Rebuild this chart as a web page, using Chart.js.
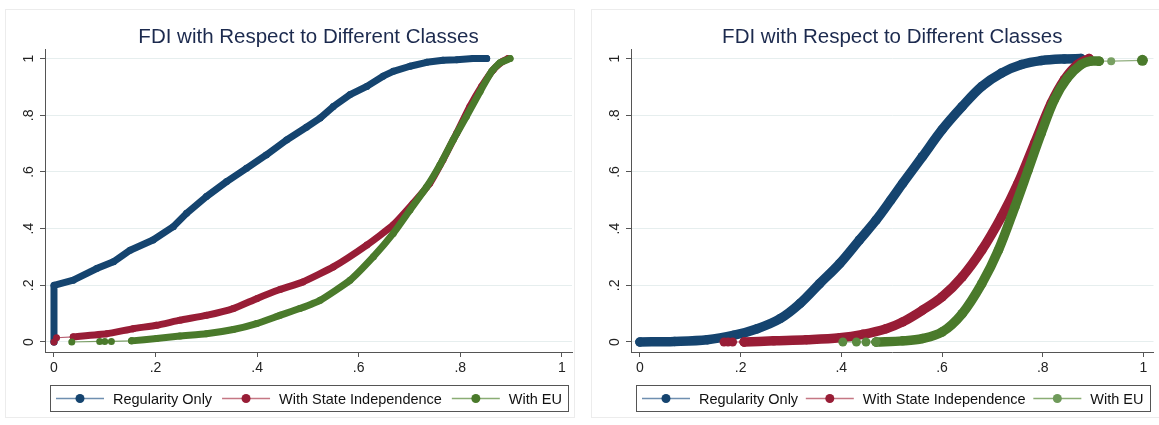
<!DOCTYPE html>
<html>
<head>
<meta charset="utf-8">
<script src="https://cdn.jsdelivr.net/npm/chart.js@4.4.1/dist/chart.umd.min.js"></script>
<style>
  body { margin: 0; background: #fff; width: 1159px; height: 425px; overflow: hidden; position: relative; }
  .frame { position: absolute; top: 9px; height: 409px; border: 1px solid #ececec; box-sizing: border-box; }
  .panel { position: absolute; top: 0; }
</style>
</head>
<body>
<div class="frame" style="left:5px;width:570px"></div>
<div class="frame" style="left:591px;width:580px"></div>
<div class="panel" style="left:0"><canvas id="left" width="580" height="425"></canvas></div>
<div class="panel" style="left:580px"><canvas id="right" width="579" height="425"></canvas></div>
<script>
// --- data ---
const title = 'FDI with Respect to Different Classes';
const seriesNames = ['Regularity Only', 'With State Independence', 'With EU'];
const xTicks = [0, 0.2, 0.4, 0.6, 0.8, 1];
const yTicks = [0, 0.2, 0.4, 0.6, 0.8, 1];

// left panel
const regLeftX = [0, 0, 0.038, 0.084, 0.117, 0.150, 0.195, 0.235, 0.261, 0.300, 0.340, 0.379, 0.418, 0.458, 0.497, 0.524, 0.550, 0.583, 0.616, 0.648, 0.668, 0.701, 0.734, 0.766, 0.793, 0.825, 0.852];
const regLeftY = [0, 0.200, 0.218, 0.259, 0.283, 0.324, 0.360, 0.407, 0.454, 0.513, 0.566, 0.613, 0.660, 0.713, 0.758, 0.790, 0.831, 0.873, 0.902, 0.938, 0.955, 0.973, 0.987, 0.994, 0.996, 1.0, 1.0];
const stateLeftTailX = [0, 0.005, 0.038];
const stateLeftTailY = [0, 0.015, 0.018];
const stateLeftX = [0.038, 0.104, 0.156, 0.202, 0.248, 0.300, 0.353, 0.399, 0.445, 0.490, 0.550, 0.616, 0.668, 0.707, 0.740, 0.766, 0.793, 0.819, 0.842, 0.865, 0.884, 0.894];
const stateLeftY = [0.018, 0.029, 0.047, 0.059, 0.077, 0.094, 0.118, 0.153, 0.185, 0.212, 0.265, 0.342, 0.413, 0.489, 0.560, 0.643, 0.737, 0.831, 0.902, 0.961, 0.991, 1.0];
const euLeftTailX = [0.035, 0.090, 0.100, 0.113, 0.153];
const euLeftTailY = [0, 0.002, 0.002, 0.002, 0.004];
const euLeftX = [0.153, 0.202, 0.248, 0.300, 0.353, 0.399, 0.445, 0.484, 0.524, 0.583, 0.629, 0.668, 0.701, 0.734, 0.760, 0.786, 0.812, 0.839, 0.862, 0.878, 0.898];
const euLeftY = [0.004, 0.012, 0.021, 0.029, 0.044, 0.065, 0.094, 0.118, 0.147, 0.218, 0.301, 0.383, 0.466, 0.548, 0.625, 0.713, 0.796, 0.884, 0.955, 0.985, 1.0];

// right panel
const regRightX = [0, 0.069, 0.134, 0.187, 0.233, 0.279, 0.318, 0.357, 0.397, 0.436, 0.469, 0.498, 0.522, 0.561, 0.600, 0.640, 0.679, 0.718, 0.758, 0.797, 0.843, 0.876];
const regRightY = [0, 0.002, 0.008, 0.024, 0.047, 0.083, 0.136, 0.206, 0.277, 0.360, 0.430, 0.500, 0.560, 0.654, 0.749, 0.831, 0.902, 0.949, 0.979, 0.993, 0.999, 1.0];
const stateRightTailX = [0.167, 0.175, 0.184, 0.207];
const stateRightTailY = [0, 0, 0, 0];
const stateRightX = [0.207, 0.266, 0.331, 0.397, 0.443, 0.489, 0.522, 0.561, 0.600, 0.640, 0.679, 0.718, 0.751, 0.784, 0.817, 0.843, 0.869, 0.892];
const stateRightY = [0, 0.004, 0.008, 0.015, 0.027, 0.047, 0.071, 0.112, 0.159, 0.230, 0.324, 0.442, 0.560, 0.702, 0.843, 0.926, 0.979, 1.0];
const euRightTailX = [0.403, 0.430, 0.449, 0.469];
const euRightTailY = [0, 0, 0, 0];
const euRightX = [0.469, 0.522, 0.561, 0.600, 0.640, 0.679, 0.712, 0.745, 0.771, 0.797, 0.823, 0.849, 0.876, 0.895, 0.912];
const euRightY = [0, 0.004, 0.012, 0.035, 0.100, 0.206, 0.324, 0.478, 0.607, 0.737, 0.855, 0.932, 0.979, 0.991, 0.991];
const euRightEndX = [0.912, 0.936, 0.998];
const euRightEndY = [0.991, 0.991, 0.994];

// --- styling ---
const FONT = '"Liberation Sans", Arial, Helvetica, sans-serif';
const navy = '#15446f', maroon = '#981d36', forest = '#4a7a2b';
const xMin = -0.0177, xMax = 1.02, yMin = -0.0353, yMax = 1.0318;

function pts(xs, ys) {
    return xs.map((x, i) => ({ x: x, y: ys[i] }));
}

// thick band: the dense markers in the original merge into a band
function band(label, xs, ys, color, w, order, smooth) {
    return {
        label: label, data: pts(xs, ys), showLine: true,
        borderColor: color, backgroundColor: color, borderWidth: w,
        borderCapStyle: 'round', borderJoinStyle: 'round',
        tension: smooth, pointRadius: w / 2, pointBorderWidth: 0, order: order
    };
}

// sparse markers joined by a thin line
function tail(xs, ys, color, lineColor, r, order) {
    return {
        label: '', tail: true, data: pts(xs, ys), showLine: true,
        borderColor: lineColor, backgroundColor: color, borderWidth: 1.2,
        pointRadius: r, pointBorderWidth: 0, order: order
    };
}

function fmt(v) {
    if (v === 0) return '0';
    if (v === 1) return '1';
    return v.toFixed(1).replace(/^0/, '');
}

// y labels are vertical, as in Stata
const yLabels = {
    id: 'yLabels',
    afterDraw(chart) {
        const ctx = chart.ctx, ys = chart.scales.y, left = chart.chartArea.left;
        ctx.save();
        ctx.fillStyle = '#222';
        ctx.font = '14px ' + FONT;
        ctx.textAlign = 'center';
        ctx.textBaseline = 'middle';
        yTicks.forEach(v => {
            ctx.save();
            ctx.translate(left - 16, ys.getPixelForValue(v));
            ctx.rotate(-Math.PI / 2);
            ctx.fillText(fmt(v), 0, 0);
            ctx.restore();
        });
        ctx.restore();
    }
};

// boxed legend under the plot, symbol = line with a marker
const boxLegend = {
    id: 'boxLegend',
    afterDraw(chart) {
        const ctx = chart.ctx, area = chart.chartArea;
        const items = chart.data.datasets.filter(d => !d.tail);
        const left = area.left + 5, right = area.right - 4, top = area.bottom + 33, h = 26;
        ctx.save();
        ctx.strokeStyle = '#555';
        ctx.lineWidth = 1;
        ctx.strokeRect(Math.round(left) + 0.5, top + 0.5, Math.round(right - left), h);
        ctx.font = '14.5px ' + FONT;
        ctx.textBaseline = 'middle';
        const sym = 57;
        const widths = items.map(d => ctx.measureText(d.label).width);
        const used = widths.reduce((a, b) => a + b + sym, 0);
        const gap = (right - left - 12 - used) / (items.length - 1);
        const cy = top + h / 2 + 0.5;
        let x = left + 6;
        items.forEach((d, i) => {
            ctx.strokeStyle = d.legendLine;
            ctx.lineWidth = 1.5;
            ctx.beginPath();
            ctx.moveTo(x, cy);
            ctx.lineTo(x + 48, cy);
            ctx.stroke();
            ctx.fillStyle = d.legendDot || d.backgroundColor;
            ctx.beginPath();
            ctx.arc(x + 24, cy, 4.5, 0, Math.PI * 2);
            ctx.fill();
            ctx.fillStyle = '#111';
            ctx.fillText(d.label, x + sym, cy + 1);
            x += sym + widths[i] + gap;
        });
        ctx.restore();
    }
};

function makeChart(id, datasets, axisW, padRight) {
    const ctx = document.getElementById(id).getContext('2d');
    return new Chart(ctx, {
        type: 'scatter',
        data: { datasets: datasets },
        options: {
            responsive: false,
            animation: false,
            layout: { padding: { top: 0, left: 0, right: padRight, bottom: 45 } },
            plugins: {
                legend: { display: false },
                tooltip: { enabled: false },
                title: {
                    display: true, text: title, fullSize: false,
                    color: '#1c2a4e',
                    font: { family: FONT, size: 20.5, weight: 'normal' },
                    padding: { top: 25, bottom: 0 }
                }
            },
            scales: {
                x: {
                    type: 'linear', min: xMin, max: xMax,
                    afterBuildTicks: s => { s.ticks = xTicks.map(v => ({ value: v })); },
                    afterFit: s => { s.height = 28; },
                    ticks: { callback: v => fmt(v), color: '#222', font: { family: FONT, size: 14 }, padding: 3, maxRotation: 0, autoSkip: false },
                    grid: { drawOnChartArea: false, drawTicks: true, tickLength: 5, tickColor: '#555' },
                    border: { color: '#555', width: 1 }
                },
                y: {
                    type: 'linear', min: yMin, max: yMax,
                    afterBuildTicks: s => { s.ticks = yTicks.map(v => ({ value: v })); },
                    afterFit: s => { s.width = axisW; },
                    ticks: { display: false },
                    grid: { color: '#e6eeee', lineWidth: 1, drawTicks: true, tickLength: 5, tickColor: '#555' },
                    border: { color: '#555', width: 1 }
                }
            }
        },
        plugins: [yLabels, boxLegend]
    });
}

const leftSets = [
    band(seriesNames[0], regLeftX, regLeftY, navy, 7, 2, 0),
    tail(stateLeftTailX, stateLeftTailY, maroon, 'rgba(152,29,54,0.7)', 3.5, 1),
    band(seriesNames[1], stateLeftX, stateLeftY, maroon, 7, 1, 0.15),
    tail(euLeftTailX, euLeftTailY, forest, 'rgba(74,122,43,0.7)', 3.5, 0),
    band(seriesNames[2], euLeftX, euLeftY, forest, 7, 0, 0.15)
];
leftSets[0].legendLine = '#6f8fb0';
leftSets[2].legendLine = '#c57784';
leftSets[4].legendLine = '#8aad74';

const rightSets = [
    band(seriesNames[0], regRightX, regRightY, navy, 9.5, 2, 0.35),
    tail(stateRightTailX, stateRightTailY, maroon, 'rgba(152,29,54,0.7)', 4.5, 1),
    band(seriesNames[1], stateRightX, stateRightY, maroon, 9.5, 1, 0.35),
    tail(euRightTailX, euRightTailY, '#5a8a40', 'rgba(74,122,43,0.6)', 4.5, 0),
    band(seriesNames[2], euRightX, euRightY, forest, 9.5, 0, 0.35),
    tail(euRightEndX, euRightEndY, '#6f9a5a', 'rgba(74,122,43,0.6)', 4.5, 0)
];
rightSets[0].legendLine = '#6f8fb0';
rightSets[2].legendLine = '#c57784';
rightSets[4].legendLine = '#8aad74';
rightSets[4].legendDot = '#6f9a5a';
rightSets[5].pointRadius = [4.5, 4, 5.5];
rightSets[5].pointBackgroundColor = [forest, '#78a062', forest];

makeChart('left', leftSets, 45, 8);
makeChart('right', rightSets, 51, 2);
</script>
</body>
</html>
